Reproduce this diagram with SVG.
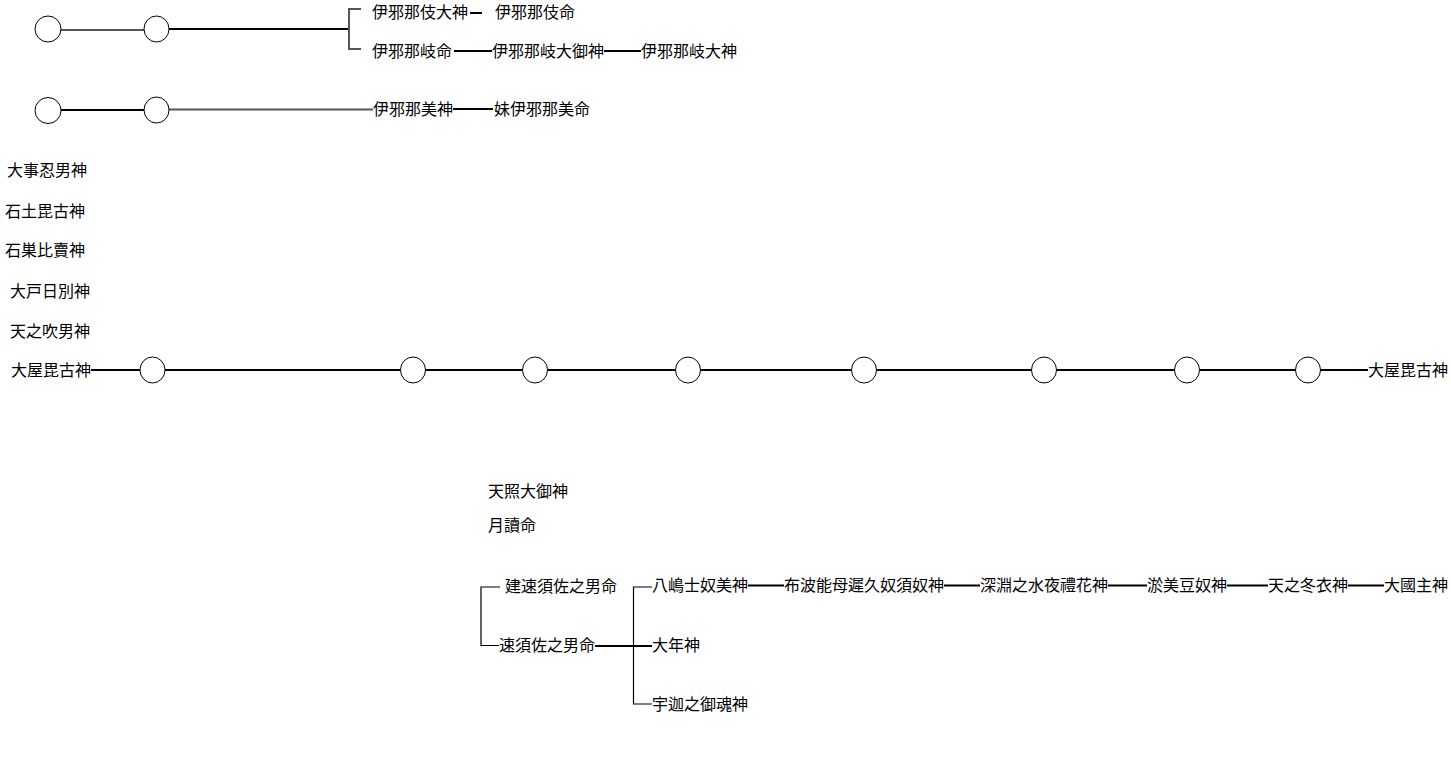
<svg xmlns="http://www.w3.org/2000/svg" width="1451" height="781" viewBox="0 0 1451 781">
<style>
.c{fill:#fff;stroke:#000;stroke-width:1}
.l{stroke:#000;stroke-width:2;fill:none}
.g{stroke:#555;stroke-width:2;fill:none}
.b{stroke:#000;stroke-width:1.2;fill:none}
text{font-family:"Noto Sans CJK JP","Noto Sans CJK SC",sans-serif;font-size:16px;fill:#000}
</style>
<rect width="1451" height="781" fill="#fff"/>
<g id="connectors">
<line class="g" x1="61" y1="30" x2="144" y2="30"/>
<line class="l" x1="169" y1="29" x2="349" y2="29"/>
<path class="g" d="M361,9H349V49H361"/>
<line class="l" x1="470" y1="13" x2="482" y2="13"/>
<line class="l" x1="454" y1="51" x2="492" y2="51"/>
<line class="l" x1="604" y1="51" x2="641" y2="51"/>
<line class="l" x1="61" y1="110" x2="144" y2="110"/>
<line class="g" x1="169" y1="109.5" x2="373" y2="109.5"/>
<line class="l" x1="453" y1="109" x2="493" y2="109"/>
<line class="l" x1="91" y1="370" x2="140" y2="370"/>
<line class="l" x1="165" y1="370" x2="400.5" y2="370"/>
<line class="l" x1="425.5" y1="370" x2="522.5" y2="370"/>
<line class="l" x1="547.5" y1="370" x2="675.5" y2="370"/>
<line class="l" x1="700.5" y1="370" x2="851.5" y2="370"/>
<line class="l" x1="876.5" y1="370" x2="1031.5" y2="370"/>
<line class="l" x1="1056.5" y1="370" x2="1174.5" y2="370"/>
<line class="l" x1="1199.5" y1="370" x2="1295.5" y2="370"/>
<line class="l" x1="1320.5" y1="370" x2="1368" y2="370"/>
<path class="b" d="M500,587H481V645.5H499"/>
<line class="l" x1="595" y1="646" x2="652" y2="646"/>
<path class="b" d="M652,587H633.5V704H652"/>
<line class="l" x1="748" y1="585.5" x2="784" y2="585.5"/>
<line class="l" x1="944" y1="585.5" x2="980" y2="585.5"/>
<line class="l" x1="1108" y1="585.5" x2="1147" y2="585.5"/>
<line class="l" x1="1227" y1="585.5" x2="1268" y2="585.5"/>
<line class="l" x1="1348" y1="585.5" x2="1384" y2="585.5"/>
</g>
<g id="circles-top">
<ellipse id="c1" class="c" cx="48" cy="29" rx="13" ry="13"/>
<ellipse id="c2" class="c" cx="156.5" cy="29" rx="12.5" ry="13"/>
<ellipse id="c3" class="c" cx="48" cy="110.5" rx="13" ry="13"/>
<ellipse id="c4" class="c" cx="156.5" cy="110" rx="12.5" ry="13"/>
</g>
<g id="circles-mid">
<ellipse id="m1" class="c" cx="152.5" cy="370" rx="12.5" ry="13"/>
<ellipse id="m2" class="c" cx="413" cy="370" rx="12.5" ry="13"/>
<ellipse id="m3" class="c" cx="535" cy="370" rx="12.5" ry="13"/>
<ellipse id="m4" class="c" cx="688" cy="370" rx="12.5" ry="13"/>
<ellipse id="m5" class="c" cx="864" cy="370" rx="12.5" ry="13"/>
<ellipse id="m6" class="c" cx="1044" cy="370" rx="12.5" ry="13"/>
<ellipse id="m7" class="c" cx="1187" cy="370" rx="12.5" ry="13"/>
<ellipse id="m8" class="c" cx="1308" cy="370" rx="12.5" ry="13"/>
</g>
<g id="n1"><text x="372" y="18">伊邪那伎大神</text></g>
<g id="n2"><text x="495" y="18">伊邪那伎命</text></g>
<g id="n3"><text x="372" y="57">伊邪那岐命</text></g>
<g id="n4"><text x="492" y="57">伊邪那岐大御神</text></g>
<g id="n5"><text x="641" y="57">伊邪那岐大神</text></g>
<g id="n6"><text x="373" y="115">伊邪那美神</text></g>
<g id="n7"><text x="494" y="115">妹伊邪那美命</text></g>
<g id="n8"><text x="7" y="176">大事忍男神</text></g>
<g id="n9"><text x="5" y="217">石土毘古神</text></g>
<g id="n10"><text x="5" y="256">石巣比賣神</text></g>
<g id="n11"><text x="10" y="297">大戸日別神</text></g>
<g id="n12"><text x="10" y="337">天之吹男神</text></g>
<g id="n13"><text x="11" y="376">大屋毘古神</text></g>
<g id="n14"><text x="1368" y="376">大屋毘古神</text></g>
<g id="n15"><text x="488" y="497">天照大御神</text></g>
<g id="n16"><text x="488" y="531">月讀命</text></g>
<g id="n17"><text x="505" y="592">建速須佐之男命</text></g>
<g id="n18"><text x="499" y="651">速須佐之男命</text></g>
<g id="n19"><text x="652" y="591">八嶋士奴美神</text></g>
<g id="n20"><text x="652" y="651">大年神</text></g>
<g id="n21"><text x="652" y="710">宇迦之御魂神</text></g>
<g id="n22"><text x="784" y="591">布波能母遲久奴須奴神</text></g>
<g id="n23"><text x="980" y="591">深淵之水夜禮花神</text></g>
<g id="n24"><text x="1147" y="591">淤美豆奴神</text></g>
<g id="n25"><text x="1268" y="591">天之冬衣神</text></g>
<g id="n26"><text x="1384" y="591">大國主神</text></g>
</svg>
